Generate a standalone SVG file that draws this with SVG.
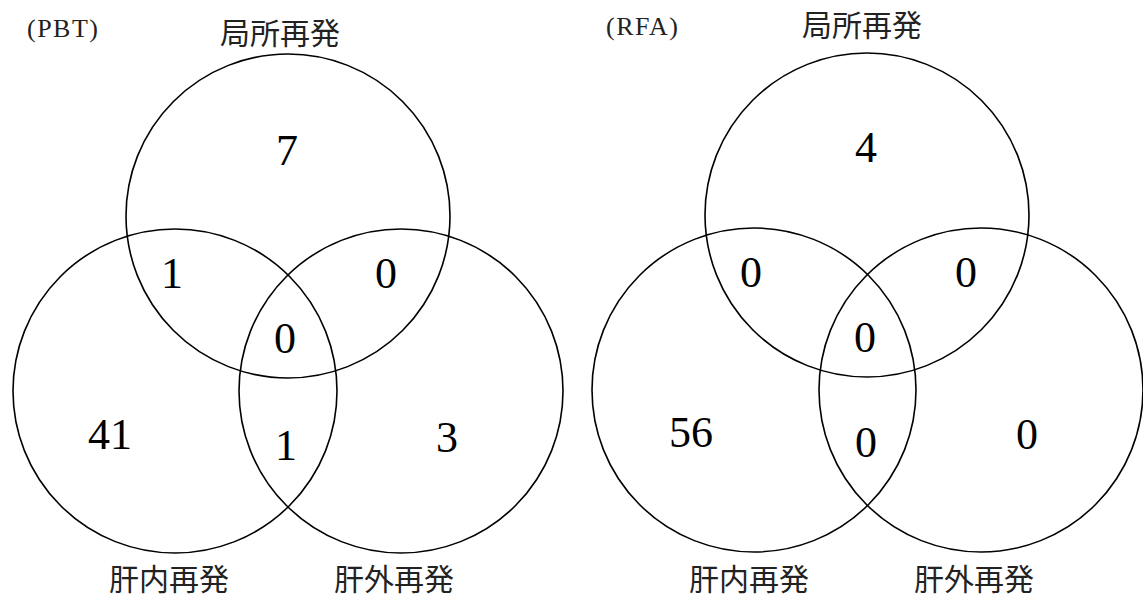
<svg xmlns="http://www.w3.org/2000/svg" width="1143" height="599" viewBox="0 0 1143 599">
<style>
.c{fill:none;stroke:#000;stroke-width:1.6}
.n{font-family:"Liberation Serif","Noto Sans CJK JP",serif;font-size:44px;text-anchor:middle;fill:#000}
.l{font-family:"Noto Sans CJK JP",sans-serif;font-size:30px;text-anchor:middle;fill:#222}
.t{font-family:"Liberation Serif","Noto Sans CJK JP",serif;font-size:26px;letter-spacing:1.5px;fill:#222}
</style>
<rect width="1143" height="599" fill="#fff"/>
<g id="pbt">
<text class="t" x="27" y="37">(PBT)</text>
<g id="pbt-local"><circle class="c" cx="288" cy="216" r="162"/><text class="l" x="280" y="44">局所再発</text></g>
<g id="pbt-intra"><circle class="c" cx="175" cy="391" r="162"/><text class="l" x="169" y="590">肝内再発</text></g>
<g id="pbt-extra"><circle class="c" cx="401" cy="391" r="162"/><text class="l" x="394" y="590">肝外再発</text></g>
<g id="pbt-nums">
<text class="n" x="287" y="165">7</text>
<text class="n" x="172" y="288">1</text>
<text class="n" x="386" y="288">0</text>
<text class="n" x="285" y="353">0</text>
<text class="n" x="110" y="449">41</text>
<text class="n" x="286" y="460">1</text>
<text class="n" x="447" y="452">3</text>
</g>
</g>
<g id="rfa">
<text class="t" x="606" y="35">(RFA)</text>
<g id="rfa-local"><circle class="c" cx="867" cy="215" r="162"/><text class="l" x="862" y="36">局所再発</text></g>
<g id="rfa-intra"><circle class="c" cx="754" cy="390" r="162"/><text class="l" x="749" y="590">肝内再発</text></g>
<g id="rfa-extra"><circle class="c" cx="981" cy="390" r="162"/><text class="l" x="974" y="590">肝外再発</text></g>
<g id="rfa-nums">
<text class="n" x="866" y="162">4</text>
<text class="n" x="751" y="287">0</text>
<text class="n" x="966" y="287">0</text>
<text class="n" x="865" y="352">0</text>
<text class="n" x="691" y="447">56</text>
<text class="n" x="866" y="457">0</text>
<text class="n" x="1027" y="449">0</text>
</g>
</g>
<g id="connectors"></g>
</svg>
